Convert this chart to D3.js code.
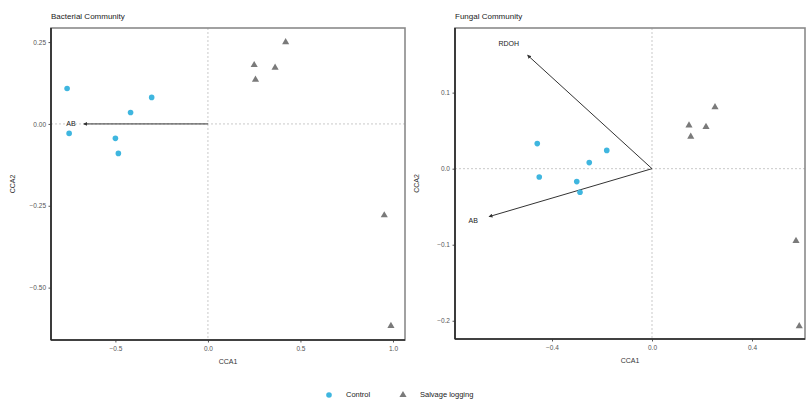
<!DOCTYPE html>
<html>
<head>
<meta charset="utf-8">
<script src="https://cdn.jsdelivr.net/npm/d3@7"></script>
<style>
  body { margin: 0; background: #fff; }
  text { font-family: "Liberation Sans", Arial, sans-serif; }
</style>
</head>
<body>
<div id="chart"></div>
<script>
const SVG_WIDTH = 809;
const SVG_HEIGHT = 404;

const GROUPS = ["Control", "Salvage logging"];
const GROUP_COLORS = { "Control": "#3fb6df", "Salvage logging": "#7a7a7a" };

// Bacterial community scores
const bactControlX = [-0.761, -0.750, -0.500, -0.484, -0.418, -0.304];
const bactControlY = [0.108, -0.029, -0.044, -0.090, 0.035, 0.081];
const bactSalvageX = [0.420, 0.250, 0.363, 0.257, 0.953, 0.989];
const bactSalvageY = [0.250, 0.180, 0.172, 0.135, -0.279, -0.617];
const bactArrowNames = ["AB"];
const bactArrowX = [-0.67];
const bactArrowY = [0.0];
const bactXTicks = [-0.5, 0.0, 0.5, 1.0];
const bactYTicks = [0.25, 0.0, -0.25, -0.5];

// Fungal community scores
const fungControlX = [-0.459, -0.181, -0.251, -0.451, -0.301, -0.288];
const fungControlY = [0.033, 0.024, 0.008, -0.011, -0.017, -0.031];
const fungSalvageX = [0.252, 0.148, 0.216, 0.155, 0.576, 0.589];
const fungSalvageY = [0.081, 0.057, 0.055, 0.042, -0.095, -0.207];
const fungArrowNames = ["RDOH", "AB"];
const fungArrowX = [-0.497, -0.651];
const fungArrowY = [0.149, -0.063];
const fungXTicks = [-0.4, 0.0, 0.4];
const fungYTicks = [0.1, 0.0, -0.1, -0.2];

const svg = d3.select("#chart")
    .append("svg")
    .attr("width", SVG_WIDTH)
    .attr("height", SVG_HEIGHT);

function toPoints(xs, ys, group) {
    return xs.map((x, i) => ({ x: x, y: ys[i], group: group }));
}

function drawPanel(cfg) {
    const left = cfg.left, top = cfg.top, w = cfg.width, h = cfg.height;
    const g = svg.append("g").attr("transform", `translate(${left},${top})`);

    const xScale = d3.scaleLinear().domain(cfg.xDomain).range([0, w]);
    const yScale = d3.scaleLinear().domain(cfg.yDomain).range([h, 0]);

    // zero reference lines
    g.append("line")
        .attr("x1", xScale(0)).attr("x2", xScale(0))
        .attr("y1", 0).attr("y2", h)
        .attr("stroke", "#bbb").attr("stroke-width", 0.8)
        .attr("stroke-dasharray", "2,2");
    g.append("line")
        .attr("x1", 0).attr("x2", w)
        .attr("y1", yScale(0)).attr("y2", yScale(0))
        .attr("stroke", "#bbb").attr("stroke-width", 0.8)
        .attr("stroke-dasharray", "2,2");

    // arrows
    const arrows = cfg.arrowNames.map((n, i) => ({ name: n, x: cfg.arrowX[i], y: cfg.arrowY[i] }));
    g.selectAll(".arrow")
        .data(arrows)
        .join("line")
        .attr("class", "arrow")
        .attr("x1", xScale(0)).attr("y1", yScale(0))
        .attr("x2", d => xScale(d.x)).attr("y2", d => yScale(d.y))
        .attr("stroke", "#333").attr("stroke-width", 1)
        .attr("marker-end", "url(#arrowhead)");
    g.selectAll(".arrow-label")
        .data(arrows)
        .join("text")
        .attr("class", "arrow-label")
        .attr("x", d => xScale(d.x) + cfg.labelDx(d))
        .attr("y", d => yScale(d.y) + cfg.labelDy(d))
        .attr("text-anchor", "middle")
        .attr("dominant-baseline", "middle")
        .attr("font-size", 7)
        .attr("fill", "#222")
        .text(d => d.name);

    // points
    const ctrl = toPoints(cfg.ctrlX, cfg.ctrlY, "Control");
    const salv = toPoints(cfg.salvX, cfg.salvY, "Salvage logging");

    g.selectAll(".ctrl")
        .data(ctrl)
        .join("circle")
        .attr("class", "ctrl")
        .attr("cx", d => xScale(d.x))
        .attr("cy", d => yScale(d.y))
        .attr("r", 2.8)
        .attr("fill", GROUP_COLORS["Control"]);

    const tri = d3.symbol().type(d3.symbolTriangle).size(22);
    g.selectAll(".salv")
        .data(salv)
        .join("path")
        .attr("class", "salv")
        .attr("transform", d => `translate(${xScale(d.x)},${yScale(d.y)})`)
        .attr("d", tri)
        .attr("fill", GROUP_COLORS["Salvage logging"]);

    // axes
    const xAxis = g.append("g")
        .attr("transform", `translate(0,${h})`)
        .call(d3.axisBottom(xScale).tickValues(cfg.xTicks).tickSize(2.5).tickFormat(d3.format(".1f")));
    const yAxis = g.append("g")
        .call(d3.axisLeft(yScale).tickValues(cfg.yTicks).tickSize(2.5).tickFormat(d3.format(cfg.yFormat)));
    [xAxis, yAxis].forEach(a => {
        a.select(".domain").remove();
        a.selectAll(".tick line").attr("stroke", "#555");
        a.selectAll(".tick text").attr("fill", "#555").attr("font-size", 6.5);
    });
    yAxis.selectAll(".tick text").attr("x", -5);
    xAxis.selectAll(".tick text").attr("y", 6);

    // panel border + axis lines
    g.append("rect")
        .attr("width", w).attr("height", h)
        .attr("fill", "none").attr("stroke", "#8a8a8a").attr("stroke-width", 1.6);
    g.append("line").attr("x1", 0).attr("x2", 0).attr("y1", 0).attr("y2", h)
        .attr("stroke", "#222").attr("stroke-width", 1.6);
    g.append("line").attr("x1", 0).attr("x2", w).attr("y1", h).attr("y2", h)
        .attr("stroke", "#222").attr("stroke-width", 1.6);

    // titles & axis labels
    svg.append("text")
        .attr("x", left).attr("y", top - 9)
        .attr("font-size", 8).attr("fill", "#222")
        .text(cfg.title);
    svg.append("text")
        .attr("x", left + w / 2).attr("y", top + h + 24)
        .attr("text-anchor", "middle")
        .attr("font-size", 7).attr("fill", "#333")
        .text("CCA1");
    svg.append("text")
        .attr("transform", `translate(${left - 36},${top + h / 2}) rotate(-90)`)
        .attr("text-anchor", "middle")
        .attr("font-size", 7).attr("fill", "#333")
        .text("CCA2");
}

svg.append("defs").append("marker")
    .attr("id", "arrowhead")
    .attr("viewBox", "0 0 10 10")
    .attr("refX", 8).attr("refY", 5)
    .attr("markerWidth", 4).attr("markerHeight", 4)
    .attr("orient", "auto")
    .append("path")
    .attr("d", "M0,0L10,5L0,10z")
    .attr("fill", "#333");

drawPanel({
    title: "Bacterial Community",
    left: 51, top: 28, width: 354, height: 312,
    xDomain: [-0.848, 1.065], yDomain: [-0.66, 0.293],
    xTicks: bactXTicks, yTicks: bactYTicks, yFormat: ".2f",
    ctrlX: bactControlX, ctrlY: bactControlY,
    salvX: bactSalvageX, salvY: bactSalvageY,
    arrowNames: bactArrowNames, arrowX: bactArrowX, arrowY: bactArrowY,
    labelDx: d => -13, labelDy: d => 0
});

drawPanel({
    title: "Fungal Community",
    left: 455, top: 28, width: 350, height: 311,
    xDomain: [-0.788, 0.612], yDomain: [-0.224, 0.185],
    xTicks: fungXTicks, yTicks: fungYTicks, yFormat: ".1f",
    ctrlX: fungControlX, ctrlY: fungControlY,
    salvX: fungSalvageX, salvY: fungSalvageY,
    arrowNames: fungArrowNames, arrowX: fungArrowX, arrowY: fungArrowY,
    labelDx: d => d.name === "AB" ? -16 : -19, labelDy: d => d.name === "AB" ? 5 : -11
});

// legend
const legend = svg.append("g").attr("transform", "translate(329,395)");
const legendX = [0, 74];
GROUPS.forEach((grp, i) => {
    const item = legend.append("g").attr("transform", `translate(${legendX[i]},0)`);
    if (grp === "Control") {
        item.append("circle").attr("r", 2.8).attr("fill", GROUP_COLORS[grp]);
    } else {
        item.append("path").attr("d", d3.symbol().type(d3.symbolTriangle).size(22))
            .attr("fill", GROUP_COLORS[grp]);
    }
    item.append("text")
        .attr("x", 17).attr("y", 0)
        .attr("dominant-baseline", "middle")
        .attr("font-size", 7.5).attr("fill", "#222")
        .text(grp);
});
</script>
</body>
</html>
